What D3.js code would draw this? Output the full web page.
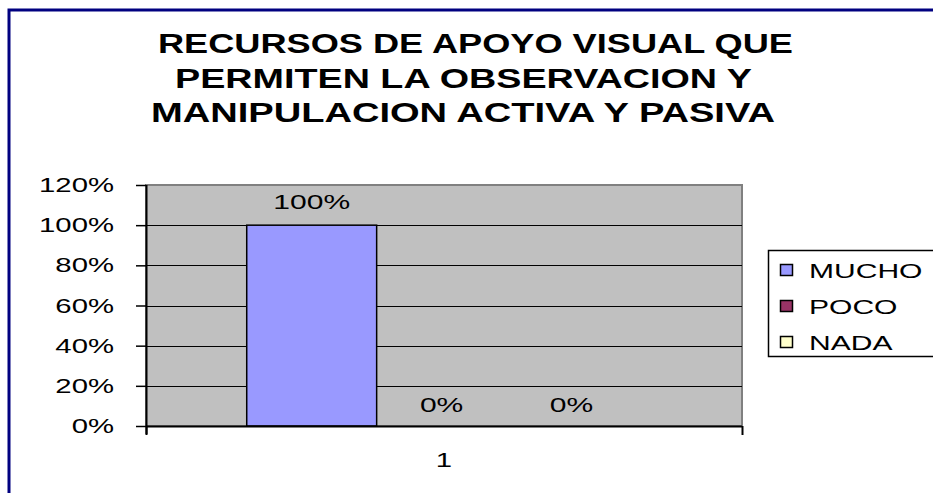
<!DOCTYPE html>
<html><head><meta charset="utf-8">
<script src="https://cdn.jsdelivr.net/npm/d3@7"></script>
<style>html,body{margin:0;padding:0;background:#fff;}svg{display:block;}</style>
</head><body>
<script>
// ---- data ----
const categories = ["1"];
const seriesNames = ["MUCHO", "POCO", "NADA"];
const seriesValues = [1.0, 0.0, 0.0];
const seriesColors = ["#9999FF", "#993366", "#FFFFCC"];
const yTickValues = [0, 0.2, 0.4, 0.6, 0.8, 1.0, 1.2];
const titleLines = ["RECURSOS DE APOYO VISUAL QUE", "PERMITEN LA OBSERVACION Y", "MANIPULACION ACTIVA Y PASIVA"];

// ---- layout ----
const W = 933, H = 493, SX = 1.43;
const FONT = "Liberation Sans, Arial, sans-serif";
const plot = {left: 146, right: 742, top: 185, bottom: 426};

const svg = d3.select("body").append("svg").attr("width", W).attr("height", H);

function stext(g, x, y, str, size, anchor, weight, sx) {
  return g.append("text")
    .attr("transform", `translate(${x},${y}) scale(${sx || SX},1)`)
    .attr("text-anchor", anchor || "start")
    .attr("font-family", FONT)
    .attr("font-size", size)
    .attr("font-weight", weight || "normal")
    .attr("fill", "#000")
    .text(str);
}

// outer border
svg.append("rect").attr("x", 9).attr("y", 10).attr("width", 1000).attr("height", 1000)
  .attr("fill", "none").attr("stroke", "#000080").attr("stroke-width", 3);

// title
const titleStarts = [158, 175, 151];
const titleWidths = [635, 577, 624];
const titleBase = [53, 88, 122];
titleLines.forEach((t, i) => {
  svg.append("text")
    .attr("x", titleStarts[i]).attr("y", titleBase[i])
    .attr("textLength", titleWidths[i]).attr("lengthAdjust", "spacingAndGlyphs")
    .attr("font-family", FONT).attr("font-size", 27.5).attr("font-weight", "bold")
    .attr("fill", "#000").text(t);
});

// scales
const x = d3.scaleBand().domain(categories).range([plot.left, plot.right]);
const xs = d3.scaleBand().domain(seriesNames)
  .range([x.bandwidth() * 0.169, x.bandwidth() * 0.823]);
const y = d3.scaleLinear().domain([0, 1.2]).range([plot.bottom, plot.top]);

// plot area
svg.append("rect").attr("x", plot.left).attr("y", plot.top)
  .attr("width", plot.right - plot.left).attr("height", plot.bottom - plot.top)
  .attr("fill", "#C0C0C0").attr("stroke", "#808080").attr("stroke-width", 2);

// gridlines
svg.append("g").selectAll("line").data(yTickValues.filter(v => v > 0 && v < 1.2)).join("line")
  .attr("x1", plot.left).attr("x2", plot.right)
  .attr("y1", d => Math.round(y(d)) + 0.5).attr("y2", d => Math.round(y(d)) + 0.5)
  .attr("stroke", "#000").attr("stroke-width", 1);

// bars
const data = seriesNames.map((s, i) => ({name: s, value: seriesValues[i], color: seriesColors[i], cat: categories[0]}));
const gb = svg.append("g");
gb.selectAll("rect").data(data.filter(d => d.value > 0)).join("rect")
  .attr("x", d => x(d.cat) + xs(d.name))
  .attr("y", d => y(d.value))
  .attr("width", xs.bandwidth())
  .attr("height", d => y(0) - y(d.value))
  .attr("fill", d => d.color).attr("stroke", "#000").attr("stroke-width", 1.5);

// data labels
data.forEach(d => {
  stext(svg, x(d.cat) + xs(d.name) + xs.bandwidth() / 2, y(d.value) - (d.value > 0 ? 16 : 14),
    d3.format(".0%")(d.value), 21, "middle");
});

// y axis
const yAxis = svg.append("g").attr("transform", `translate(${plot.left},0)`)
  .call(d3.axisLeft(y).tickValues(yTickValues).tickFormat(d3.format(".0%")).tickSize(10).tickPadding(22));
yAxis.select(".domain").attr("stroke", "#000").attr("stroke-width", 2).attr("d", `M0.5,${plot.top}V${plot.bottom + 8}`);
yAxis.selectAll(".tick line").attr("stroke", "#000").attr("stroke-width", 1.5);
yAxis.selectAll(".tick text").each(function() {
  const t = d3.select(this);
  const xx = +t.attr("x");
  t.attr("x", xx / SX).attr("transform", `scale(${SX},1)`)
   .attr("font-family", FONT).attr("font-size", 20.5).attr("fill", "#000");
});

// x axis
const xAxis = svg.append("g").attr("transform", `translate(0,${plot.bottom})`)
  .call(d3.axisBottom(x).tickSize(0).tickPadding(0));
xAxis.select(".domain").attr("stroke", "#000").attr("stroke-width", 2)
  .attr("d", `M${plot.left},0.5H${plot.right}`);
xAxis.selectAll(".tick text").remove();
svg.append("g").selectAll("line").data([plot.left, plot.right]).join("line")
  .attr("x1", d => d + 0.5).attr("x2", d => d + 0.5).attr("y1", plot.bottom).attr("y2", plot.bottom + 9)
  .attr("stroke", "#000").attr("stroke-width", 2);
categories.forEach(c => stext(svg, x(c) + x.bandwidth() / 2, 467, c, 20.5, "middle"));

// legend
const lg = svg.append("g");
lg.append("rect").attr("x", 768.5).attr("y", 250.5).attr("width", 300).attr("height", 106)
  .attr("fill", "#fff").attr("stroke", "#000").attr("stroke-width", 1.5);
seriesNames.forEach((s, i) => {
  const cy = 270 + i * 36;
  lg.append("rect").attr("x", 780.5).attr("y", cy - 5.5).attr("width", 12).attr("height", 11)
    .attr("fill", seriesColors[i]).attr("stroke", "#000").attr("stroke-width", 1.5);
  stext(lg, 809, cy + 7.5, s, 21, "start");
});
</script>
</body></html>
